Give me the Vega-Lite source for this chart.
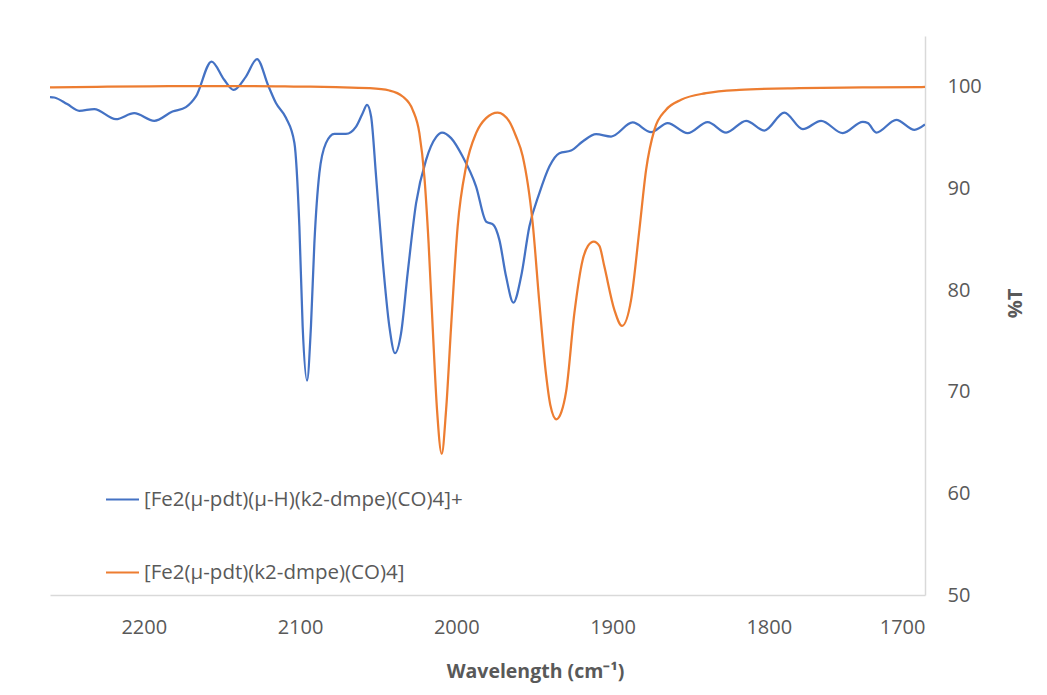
{
  "$schema": "https://vega.github.io/schema/vega-lite/v6.json",
  "width": 875,
  "height": 559,
  "autosize": "none",
  "padding": {"left": 50, "top": 36, "right": 122, "bottom": 100},
  "background": "white",
  "config": {
    "view": {"stroke": null},
    "font": "Open Sans"
  },
  "data": {
    "values": [
      {"wavenumber": 2260, "transmittance": 98.99, "compound": "[Fe2(μ-pdt)(μ-H)(k2-dmpe)(CO)4]+"},
      {"wavenumber": 2257.3, "transmittance": 98.95, "compound": "[Fe2(μ-pdt)(μ-H)(k2-dmpe)(CO)4]+"},
      {"wavenumber": 2249, "transmittance": 98.3, "compound": "[Fe2(μ-pdt)(μ-H)(k2-dmpe)(CO)4]+"},
      {"wavenumber": 2241.3, "transmittance": 97.64, "compound": "[Fe2(μ-pdt)(μ-H)(k2-dmpe)(CO)4]+"},
      {"wavenumber": 2231.7, "transmittance": 97.81, "compound": "[Fe2(μ-pdt)(μ-H)(k2-dmpe)(CO)4]+"},
      {"wavenumber": 2217.8, "transmittance": 96.82, "compound": "[Fe2(μ-pdt)(μ-H)(k2-dmpe)(CO)4]+"},
      {"wavenumber": 2206.1, "transmittance": 97.41, "compound": "[Fe2(μ-pdt)(μ-H)(k2-dmpe)(CO)4]+"},
      {"wavenumber": 2193.3, "transmittance": 96.65, "compound": "[Fe2(μ-pdt)(μ-H)(k2-dmpe)(CO)4]+"},
      {"wavenumber": 2181.6, "transmittance": 97.57, "compound": "[Fe2(μ-pdt)(μ-H)(k2-dmpe)(CO)4]+"},
      {"wavenumber": 2173.0, "transmittance": 98.0, "compound": "[Fe2(μ-pdt)(μ-H)(k2-dmpe)(CO)4]+"},
      {"wavenumber": 2166.6, "transmittance": 99.05, "compound": "[Fe2(μ-pdt)(μ-H)(k2-dmpe)(CO)4]+"},
      {"wavenumber": 2156.6, "transmittance": 102.49, "compound": "[Fe2(μ-pdt)(μ-H)(k2-dmpe)(CO)4]+"},
      {"wavenumber": 2148.5, "transmittance": 100.69, "compound": "[Fe2(μ-pdt)(μ-H)(k2-dmpe)(CO)4]+"},
      {"wavenumber": 2142.5, "transmittance": 99.7, "compound": "[Fe2(μ-pdt)(μ-H)(k2-dmpe)(CO)4]+"},
      {"wavenumber": 2134.6, "transmittance": 101.01, "compound": "[Fe2(μ-pdt)(μ-H)(k2-dmpe)(CO)4]+"},
      {"wavenumber": 2127.5, "transmittance": 102.73, "compound": "[Fe2(μ-pdt)(μ-H)(k2-dmpe)(CO)4]+"},
      {"wavenumber": 2120.3, "transmittance": 100.1, "compound": "[Fe2(μ-pdt)(μ-H)(k2-dmpe)(CO)4]+"},
      {"wavenumber": 2115.4, "transmittance": 98.4, "compound": "[Fe2(μ-pdt)(μ-H)(k2-dmpe)(CO)4]+"},
      {"wavenumber": 2109.0, "transmittance": 96.95, "compound": "[Fe2(μ-pdt)(μ-H)(k2-dmpe)(CO)4]+"},
      {"wavenumber": 2103.6, "transmittance": 94.5, "compound": "[Fe2(μ-pdt)(μ-H)(k2-dmpe)(CO)4]+"},
      {"wavenumber": 2100.4, "transmittance": 86.25, "compound": "[Fe2(μ-pdt)(μ-H)(k2-dmpe)(CO)4]+"},
      {"wavenumber": 2098.3, "transmittance": 76.41, "compound": "[Fe2(μ-pdt)(μ-H)(k2-dmpe)(CO)4]+"},
      {"wavenumber": 2095.5, "transmittance": 71.09, "compound": "[Fe2(μ-pdt)(μ-H)(k2-dmpe)(CO)4]+"},
      {"wavenumber": 2093.0, "transmittance": 76.41, "compound": "[Fe2(μ-pdt)(μ-H)(k2-dmpe)(CO)4]+"},
      {"wavenumber": 2090.8, "transmittance": 84.62, "compound": "[Fe2(μ-pdt)(μ-H)(k2-dmpe)(CO)4]+"},
      {"wavenumber": 2087.6, "transmittance": 91.51, "compound": "[Fe2(μ-pdt)(μ-H)(k2-dmpe)(CO)4]+"},
      {"wavenumber": 2083.4, "transmittance": 94.46, "compound": "[Fe2(μ-pdt)(μ-H)(k2-dmpe)(CO)4]+"},
      {"wavenumber": 2078.0, "transmittance": 95.37, "compound": "[Fe2(μ-pdt)(μ-H)(k2-dmpe)(CO)4]+"},
      {"wavenumber": 2070.6, "transmittance": 95.37, "compound": "[Fe2(μ-pdt)(μ-H)(k2-dmpe)(CO)4]+"},
      {"wavenumber": 2064.1, "transmittance": 96.09, "compound": "[Fe2(μ-pdt)(μ-H)(k2-dmpe)(CO)4]+"},
      {"wavenumber": 2059.9, "transmittance": 97.41, "compound": "[Fe2(μ-pdt)(μ-H)(k2-dmpe)(CO)4]+"},
      {"wavenumber": 2057.1, "transmittance": 98.23, "compound": "[Fe2(μ-pdt)(μ-H)(k2-dmpe)(CO)4]+"},
      {"wavenumber": 2054.5, "transmittance": 97.08, "compound": "[Fe2(μ-pdt)(μ-H)(k2-dmpe)(CO)4]+"},
      {"wavenumber": 2051.3, "transmittance": 91.17, "compound": "[Fe2(μ-pdt)(μ-H)(k2-dmpe)(CO)4]+"},
      {"wavenumber": 2047.1, "transmittance": 82.97, "compound": "[Fe2(μ-pdt)(μ-H)(k2-dmpe)(CO)4]+"},
      {"wavenumber": 2042.8, "transmittance": 76.41, "compound": "[Fe2(μ-pdt)(μ-H)(k2-dmpe)(CO)4]+"},
      {"wavenumber": 2039.2, "transmittance": 73.79, "compound": "[Fe2(μ-pdt)(μ-H)(k2-dmpe)(CO)4]+"},
      {"wavenumber": 2035.3, "transmittance": 75.76, "compound": "[Fe2(μ-pdt)(μ-H)(k2-dmpe)(CO)4]+"},
      {"wavenumber": 2031.1, "transmittance": 81.66, "compound": "[Fe2(μ-pdt)(μ-H)(k2-dmpe)(CO)4]+"},
      {"wavenumber": 2025.7, "transmittance": 88.55, "compound": "[Fe2(μ-pdt)(μ-H)(k2-dmpe)(CO)4]+"},
      {"wavenumber": 2019.3, "transmittance": 92.81, "compound": "[Fe2(μ-pdt)(μ-H)(k2-dmpe)(CO)4]+"},
      {"wavenumber": 2012.9, "transmittance": 95.05, "compound": "[Fe2(μ-pdt)(μ-H)(k2-dmpe)(CO)4]+"},
      {"wavenumber": 2009.1, "transmittance": 95.5, "compound": "[Fe2(μ-pdt)(μ-H)(k2-dmpe)(CO)4]+"},
      {"wavenumber": 2003.3, "transmittance": 94.95, "compound": "[Fe2(μ-pdt)(μ-H)(k2-dmpe)(CO)4]+"},
      {"wavenumber": 1995.9, "transmittance": 93.14, "compound": "[Fe2(μ-pdt)(μ-H)(k2-dmpe)(CO)4]+"},
      {"wavenumber": 1987.3, "transmittance": 90.19, "compound": "[Fe2(μ-pdt)(μ-H)(k2-dmpe)(CO)4]+"},
      {"wavenumber": 1980.9, "transmittance": 86.74, "compound": "[Fe2(μ-pdt)(μ-H)(k2-dmpe)(CO)4]+"},
      {"wavenumber": 1976.2, "transmittance": 86.42, "compound": "[Fe2(μ-pdt)(μ-H)(k2-dmpe)(CO)4]+"},
      {"wavenumber": 1972.4, "transmittance": 84.94, "compound": "[Fe2(μ-pdt)(μ-H)(k2-dmpe)(CO)4]+"},
      {"wavenumber": 1968.1, "transmittance": 81.33, "compound": "[Fe2(μ-pdt)(μ-H)(k2-dmpe)(CO)4]+"},
      {"wavenumber": 1963.4, "transmittance": 78.77, "compound": "[Fe2(μ-pdt)(μ-H)(k2-dmpe)(CO)4]+"},
      {"wavenumber": 1958.5, "transmittance": 81.33, "compound": "[Fe2(μ-pdt)(μ-H)(k2-dmpe)(CO)4]+"},
      {"wavenumber": 1953.2, "transmittance": 86.25, "compound": "[Fe2(μ-pdt)(μ-H)(k2-dmpe)(CO)4]+"},
      {"wavenumber": 1946.8, "transmittance": 89.54, "compound": "[Fe2(μ-pdt)(μ-H)(k2-dmpe)(CO)4]+"},
      {"wavenumber": 1940.4, "transmittance": 92.16, "compound": "[Fe2(μ-pdt)(μ-H)(k2-dmpe)(CO)4]+"},
      {"wavenumber": 1934.0, "transmittance": 93.47, "compound": "[Fe2(μ-pdt)(μ-H)(k2-dmpe)(CO)4]+"},
      {"wavenumber": 1926.5, "transmittance": 93.73, "compound": "[Fe2(μ-pdt)(μ-H)(k2-dmpe)(CO)4]+"},
      {"wavenumber": 1919.1, "transmittance": 94.62, "compound": "[Fe2(μ-pdt)(μ-H)(k2-dmpe)(CO)4]+"},
      {"wavenumber": 1910.5, "transmittance": 95.34, "compound": "[Fe2(μ-pdt)(μ-H)(k2-dmpe)(CO)4]+"},
      {"wavenumber": 1900.9, "transmittance": 95.11, "compound": "[Fe2(μ-pdt)(μ-H)(k2-dmpe)(CO)4]+"},
      {"wavenumber": 1887.1, "transmittance": 96.49, "compound": "[Fe2(μ-pdt)(μ-H)(k2-dmpe)(CO)4]+"},
      {"wavenumber": 1875.3, "transmittance": 95.54, "compound": "[Fe2(μ-pdt)(μ-H)(k2-dmpe)(CO)4]+"},
      {"wavenumber": 1864.7, "transmittance": 96.43, "compound": "[Fe2(μ-pdt)(μ-H)(k2-dmpe)(CO)4]+"},
      {"wavenumber": 1851.9, "transmittance": 95.44, "compound": "[Fe2(μ-pdt)(μ-H)(k2-dmpe)(CO)4]+"},
      {"wavenumber": 1839.1, "transmittance": 96.53, "compound": "[Fe2(μ-pdt)(μ-H)(k2-dmpe)(CO)4]+"},
      {"wavenumber": 1827.3, "transmittance": 95.5, "compound": "[Fe2(μ-pdt)(μ-H)(k2-dmpe)(CO)4]+"},
      {"wavenumber": 1814.5, "transmittance": 96.65, "compound": "[Fe2(μ-pdt)(μ-H)(k2-dmpe)(CO)4]+"},
      {"wavenumber": 1802.8, "transmittance": 95.7, "compound": "[Fe2(μ-pdt)(μ-H)(k2-dmpe)(CO)4]+"},
      {"wavenumber": 1790.0, "transmittance": 97.47, "compound": "[Fe2(μ-pdt)(μ-H)(k2-dmpe)(CO)4]+"},
      {"wavenumber": 1778.2, "transmittance": 95.84, "compound": "[Fe2(μ-pdt)(μ-H)(k2-dmpe)(CO)4]+"},
      {"wavenumber": 1766.5, "transmittance": 96.65, "compound": "[Fe2(μ-pdt)(μ-H)(k2-dmpe)(CO)4]+"},
      {"wavenumber": 1752.6, "transmittance": 95.44, "compound": "[Fe2(μ-pdt)(μ-H)(k2-dmpe)(CO)4]+"},
      {"wavenumber": 1739.8, "transmittance": 96.56, "compound": "[Fe2(μ-pdt)(μ-H)(k2-dmpe)(CO)4]+"},
      {"wavenumber": 1736.6, "transmittance": 96.43, "compound": "[Fe2(μ-pdt)(μ-H)(k2-dmpe)(CO)4]+"},
      {"wavenumber": 1731.2, "transmittance": 95.5, "compound": "[Fe2(μ-pdt)(μ-H)(k2-dmpe)(CO)4]+"},
      {"wavenumber": 1718.4, "transmittance": 96.75, "compound": "[Fe2(μ-pdt)(μ-H)(k2-dmpe)(CO)4]+"},
      {"wavenumber": 1706.7, "transmittance": 95.77, "compound": "[Fe2(μ-pdt)(μ-H)(k2-dmpe)(CO)4]+"},
      {"wavenumber": 1700, "transmittance": 96.3, "compound": "[Fe2(μ-pdt)(μ-H)(k2-dmpe)(CO)4]+"},

      {"wavenumber": 2260, "transmittance": 99.95, "compound": "[Fe2(μ-pdt)(k2-dmpe)(CO)4]"},
      {"wavenumber": 2230, "transmittance": 100.0, "compound": "[Fe2(μ-pdt)(k2-dmpe)(CO)4]"},
      {"wavenumber": 2196.5, "transmittance": 100.05, "compound": "[Fe2(μ-pdt)(k2-dmpe)(CO)4]"},
      {"wavenumber": 2160, "transmittance": 100.08, "compound": "[Fe2(μ-pdt)(k2-dmpe)(CO)4]"},
      {"wavenumber": 2132.5, "transmittance": 100.08, "compound": "[Fe2(μ-pdt)(k2-dmpe)(CO)4]"},
      {"wavenumber": 2100, "transmittance": 100.02, "compound": "[Fe2(μ-pdt)(k2-dmpe)(CO)4]"},
      {"wavenumber": 2077.0, "transmittance": 99.97, "compound": "[Fe2(μ-pdt)(k2-dmpe)(CO)4]"},
      {"wavenumber": 2055.6, "transmittance": 99.87, "compound": "[Fe2(μ-pdt)(k2-dmpe)(CO)4]"},
      {"wavenumber": 2042.8, "transmittance": 99.64, "compound": "[Fe2(μ-pdt)(k2-dmpe)(CO)4]"},
      {"wavenumber": 2034.3, "transmittance": 99.05, "compound": "[Fe2(μ-pdt)(k2-dmpe)(CO)4]"},
      {"wavenumber": 2027.9, "transmittance": 97.74, "compound": "[Fe2(μ-pdt)(k2-dmpe)(CO)4]"},
      {"wavenumber": 2023.6, "transmittance": 95.44, "compound": "[Fe2(μ-pdt)(k2-dmpe)(CO)4]"},
      {"wavenumber": 2020.4, "transmittance": 91.17, "compound": "[Fe2(μ-pdt)(k2-dmpe)(CO)4]"},
      {"wavenumber": 2017.7, "transmittance": 84.62, "compound": "[Fe2(μ-pdt)(k2-dmpe)(CO)4]"},
      {"wavenumber": 2015.1, "transmittance": 76.41, "compound": "[Fe2(μ-pdt)(k2-dmpe)(CO)4]"},
      {"wavenumber": 2012.3, "transmittance": 68.21, "compound": "[Fe2(μ-pdt)(k2-dmpe)(CO)4]"},
      {"wavenumber": 2009.3, "transmittance": 63.88, "compound": "[Fe2(μ-pdt)(k2-dmpe)(CO)4]"},
      {"wavenumber": 2006.5, "transmittance": 68.21, "compound": "[Fe2(μ-pdt)(k2-dmpe)(CO)4]"},
      {"wavenumber": 2003.3, "transmittance": 76.41, "compound": "[Fe2(μ-pdt)(k2-dmpe)(CO)4]"},
      {"wavenumber": 1999.1, "transmittance": 86.25, "compound": "[Fe2(μ-pdt)(k2-dmpe)(CO)4]"},
      {"wavenumber": 1993.7, "transmittance": 92.16, "compound": "[Fe2(μ-pdt)(k2-dmpe)(CO)4]"},
      {"wavenumber": 1987.3, "transmittance": 95.44, "compound": "[Fe2(μ-pdt)(k2-dmpe)(CO)4]"},
      {"wavenumber": 1980.9, "transmittance": 96.92, "compound": "[Fe2(μ-pdt)(k2-dmpe)(CO)4]"},
      {"wavenumber": 1973.5, "transmittance": 97.47, "compound": "[Fe2(μ-pdt)(k2-dmpe)(CO)4]"},
      {"wavenumber": 1966.0, "transmittance": 96.58, "compound": "[Fe2(μ-pdt)(k2-dmpe)(CO)4]"},
      {"wavenumber": 1961.7, "transmittance": 95.11, "compound": "[Fe2(μ-pdt)(k2-dmpe)(CO)4]"},
      {"wavenumber": 1957.5, "transmittance": 93.2, "compound": "[Fe2(μ-pdt)(k2-dmpe)(CO)4]"},
      {"wavenumber": 1951.1, "transmittance": 86.61, "compound": "[Fe2(μ-pdt)(k2-dmpe)(CO)4]"},
      {"wavenumber": 1946.8, "transmittance": 78.74, "compound": "[Fe2(μ-pdt)(k2-dmpe)(CO)4]"},
      {"wavenumber": 1942.5, "transmittance": 71.65, "compound": "[Fe2(μ-pdt)(k2-dmpe)(CO)4]"},
      {"wavenumber": 1939.8, "transmittance": 68.7, "compound": "[Fe2(μ-pdt)(k2-dmpe)(CO)4]"},
      {"wavenumber": 1935.9, "transmittance": 67.29, "compound": "[Fe2(μ-pdt)(k2-dmpe)(CO)4]"},
      {"wavenumber": 1932.7, "transmittance": 68.01, "compound": "[Fe2(μ-pdt)(k2-dmpe)(CO)4]"},
      {"wavenumber": 1929.7, "transmittance": 70.01, "compound": "[Fe2(μ-pdt)(k2-dmpe)(CO)4]"},
      {"wavenumber": 1924.4, "transmittance": 77.73, "compound": "[Fe2(μ-pdt)(k2-dmpe)(CO)4]"},
      {"wavenumber": 1919.1, "transmittance": 82.97, "compound": "[Fe2(μ-pdt)(k2-dmpe)(CO)4]"},
      {"wavenumber": 1915.7, "transmittance": 84.35, "compound": "[Fe2(μ-pdt)(k2-dmpe)(CO)4]"},
      {"wavenumber": 1912.0, "transmittance": 84.77, "compound": "[Fe2(μ-pdt)(k2-dmpe)(CO)4]"},
      {"wavenumber": 1908.4, "transmittance": 84.35, "compound": "[Fe2(μ-pdt)(k2-dmpe)(CO)4]"},
      {"wavenumber": 1905.2, "transmittance": 82.31, "compound": "[Fe2(μ-pdt)(k2-dmpe)(CO)4]"},
      {"wavenumber": 1898.8, "transmittance": 78.05, "compound": "[Fe2(μ-pdt)(k2-dmpe)(CO)4]"},
      {"wavenumber": 1893.9, "transmittance": 76.48, "compound": "[Fe2(μ-pdt)(k2-dmpe)(CO)4]"},
      {"wavenumber": 1888.1, "transmittance": 79.04, "compound": "[Fe2(μ-pdt)(k2-dmpe)(CO)4]"},
      {"wavenumber": 1882.8, "transmittance": 85.93, "compound": "[Fe2(μ-pdt)(k2-dmpe)(CO)4]"},
      {"wavenumber": 1878.5, "transmittance": 91.83, "compound": "[Fe2(μ-pdt)(k2-dmpe)(CO)4]"},
      {"wavenumber": 1873.2, "transmittance": 95.77, "compound": "[Fe2(μ-pdt)(k2-dmpe)(CO)4]"},
      {"wavenumber": 1865.7, "transmittance": 97.74, "compound": "[Fe2(μ-pdt)(k2-dmpe)(CO)4]"},
      {"wavenumber": 1856.1, "transmittance": 98.72, "compound": "[Fe2(μ-pdt)(k2-dmpe)(CO)4]"},
      {"wavenumber": 1840.1, "transmittance": 99.38, "compound": "[Fe2(μ-pdt)(k2-dmpe)(CO)4]"},
      {"wavenumber": 1818.8, "transmittance": 99.7, "compound": "[Fe2(μ-pdt)(k2-dmpe)(CO)4]"},
      {"wavenumber": 1780.3, "transmittance": 99.87, "compound": "[Fe2(μ-pdt)(k2-dmpe)(CO)4]"},
      {"wavenumber": 1740, "transmittance": 99.94, "compound": "[Fe2(μ-pdt)(k2-dmpe)(CO)4]"},
      {"wavenumber": 1703.5, "transmittance": 99.97, "compound": "[Fe2(μ-pdt)(k2-dmpe)(CO)4]"},
      {"wavenumber": 1700, "transmittance": 100.0, "compound": "[Fe2(μ-pdt)(k2-dmpe)(CO)4]"}
    ]
  },
  "mark": {"type": "line", "interpolate": "monotone", "strokeWidth": 2.25, "clip": true},
  "encoding": {
    "x": {
      "field": "wavenumber",
      "type": "quantitative",
      "scale": {"domain": [2260, 1700], "nice": false, "zero": false},
      "axis": {
        "orient": "bottom",
        "values": [2200, 2100, 2000, 1900, 1800, 1700],
        "format": "d",
        "grid": false,
        "ticks": false,
        "tickSize": 0,
        "domainColor": "#D9D9D9",
        "domainWidth": 1.5,
        "labelFont": "Open Sans",
        "labelFontSize": 20,
        "labelColor": "#595959",
        "labelPadding": 38,
        "labelBaseline": "alphabetic",
        "title": "Wavelength (cm⁻¹)",
        "titleFont": "Open Sans",
        "titleFontSize": 19.5,
        "titleFontWeight": "bold",
        "titleColor": "#595959",
        "titleX": 485,
        "titleY": 82,
        "titleAlign": "center",
        "titleBaseline": "alphabetic"
      }
    },
    "y": {
      "field": "transmittance",
      "type": "quantitative",
      "scale": {"domain": [50, 105], "nice": false, "zero": false},
      "axis": {
        "orient": "right",
        "values": [50, 60, 70, 80, 90, 100],
        "grid": false,
        "ticks": false,
        "tickSize": 0,
        "domainColor": "#D9D9D9",
        "domainWidth": 1.5,
        "labelFont": "Open Sans",
        "labelFontSize": 20,
        "labelColor": "#595959",
        "labelPadding": 22,
        "title": "%T",
        "titleFont": "Open Sans",
        "titleFontSize": 20,
        "titleFontWeight": "bold",
        "titleColor": "#595959",
        "titleAngle": 270,
        "titleX": 90,
        "titleY": 267,
        "titleAlign": "center",
        "titleBaseline": "middle"
      }
    },
    "color": {
      "field": "compound",
      "type": "nominal",
      "sort": ["[Fe2(μ-pdt)(μ-H)(k2-dmpe)(CO)4]+", "[Fe2(μ-pdt)(k2-dmpe)(CO)4]"],
      "scale": {
        "domain": ["[Fe2(μ-pdt)(μ-H)(k2-dmpe)(CO)4]+", "[Fe2(μ-pdt)(k2-dmpe)(CO)4]"],
        "range": ["#4472C4", "#ED7D31"]
      },
      "legend": {
        "orient": "none",
        "legendX": 55,
        "legendY": 446,
        "title": null,
        "padding": 0,
        "symbolType": "stroke",
        "symbolSize": 1089,
        "symbolStrokeWidth": 2,
        "labelFont": "Open Sans",
        "labelFontSize": 20.5,
        "labelColor": "#595959",
        "labelOffset": 4,
        "rowPadding": 45,
        "labelLimit": 500
      }
    }
  }
}
